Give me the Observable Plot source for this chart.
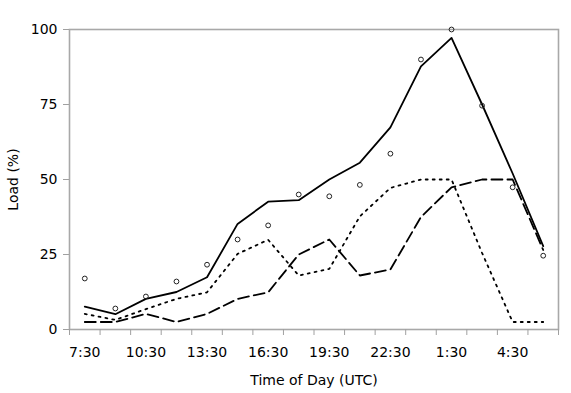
<!DOCTYPE html>
<html>
<head>
<meta charset="utf-8">
<script src="https://cdn.jsdelivr.net/npm/d3@7"></script>
<script src="https://cdn.jsdelivr.net/npm/@observablehq/plot@0.6"></script>
<style>
  html, body { margin: 0; padding: 0; background: #fff; }
  #chart svg { display: block; }
</style>
</head>
<body>
<div id="chart"></div>
<script>
const times = ["7:30","9:00","10:30","12:00","13:30","15:00","16:30","18:00","19:30","21:00","22:30","0:00","1:30","3:00","4:30","6:00"];
const measured = [17, 7, 11, 16, 21.6, 30, 34.7, 45, 44.4, 48.2, 58.6, 90, 100, 74.6, 47.4, 24.6];
const solidSeries = [7.6, 5.1, 10.2, 12.5, 17.4, 35.2, 42.6, 43.1, 50, 55.6, 67.4, 87.7, 97.2, 75, 52, 27.8];
const dottedSeries = [5.2, 3.2, 6.8, 10.2, 12.4, 25.2, 29.9, 18, 20.2, 37.7, 47.2, 50, 50, 25.5, 2.5, 2.5];
const dashedSeries = [2.5, 2.5, 5.2, 2.5, 5.2, 10.2, 12.4, 25, 30, 18, 20, 37.5, 47.4, 50, 50, 26.5];
const yTicks = [0, 25, 50, 75, 100];

const idx = times.map((_, i) => i);
const toRows = arr => arr.map((v, i) => ({i, v}));
const boundaryTicks = d3.range(-0.5, times.length, 1);
const labelTicks = idx.filter(i => i % 2 === 0);

const chart = Plot.plot({
  width: 571,
  height: 393,
  marginLeft: 69,
  marginRight: 13,
  marginTop: 29,
  marginBottom: 64,
  style: {fontFamily: "DejaVu Sans", fontSize: "14px", color: "#000", background: "#fff"},
  x: {domain: [-0.5, times.length - 0.5]},
  y: {domain: [0, 100]},
  marks: [
    Plot.frame({stroke: "#a8a8a8", strokeWidth: 1.6}),
    Plot.axisY({ticks: yTicks, tickSize: 6, tickPadding: 6, stroke: "#a0a0a0",
      label: "Load (%)", labelAnchor: "center", labelArrow: "none", labelOffset: 61}),
    Plot.axisX({ticks: boundaryTicks, tickSize: 6, tickFormat: () => "", stroke: "#a0a0a0", label: null}),
    Plot.axisX({ticks: labelTicks, tickSize: 0, tickPadding: 18, tickFormat: i => times[i],
      label: "Time of Day (UTC)", labelAnchor: "center", labelArrow: "none", labelOffset: 55}),
    Plot.line(toRows(dashedSeries), {x: "i", y: "v", stroke: "#000", strokeWidth: 1.8, strokeDasharray: "11,5"}),
    Plot.line(toRows(dottedSeries), {x: "i", y: "v", stroke: "#000", strokeWidth: 1.8, strokeDasharray: "2,5"}),
    Plot.line(toRows(solidSeries), {x: "i", y: "v", stroke: "#000", strokeWidth: 1.8}),
    Plot.dot(toRows(measured), {x: "i", y: "v", r: 2.4, stroke: "#222", strokeWidth: 1, fill: "none"})
  ]
});
document.getElementById("chart").append(chart);
</script>
</body>
</html>
